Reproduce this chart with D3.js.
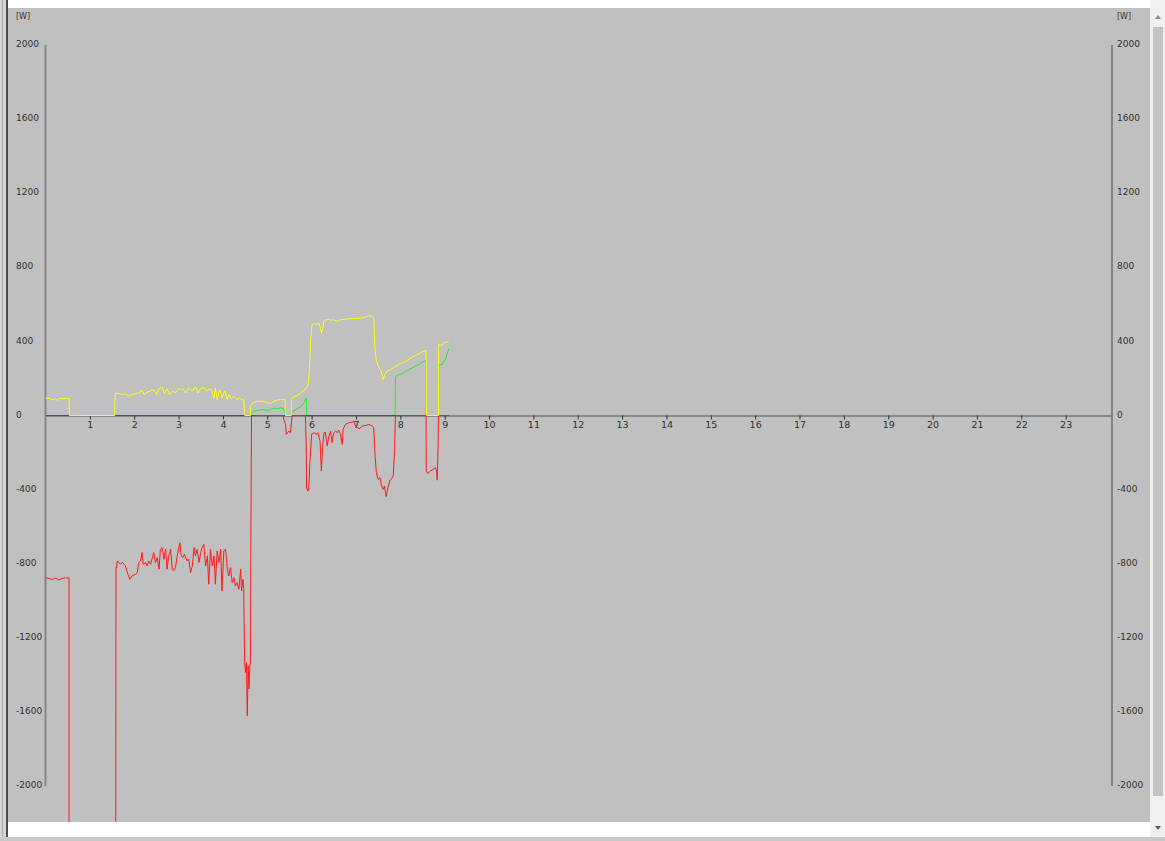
<!DOCTYPE html>
<html>
<head>
<meta charset="utf-8">
<script src="https://cdn.jsdelivr.net/npm/d3@7"></script>
<style>
  body { margin: 0; background: #fff; }
  svg { display: block; font-family: 'DejaVu Sans', sans-serif; }
</style>
</head>
<body>
<div id="vis"></div>
<script>
// power flows [hour, watt]
const hourTicks = d3.range(1, 24);
const wattTicks = d3.range(-2000, 2001, 400);

const bluePower = [[0, 0], [9.09, 0]];

const greenPower = [
  [0, 0], [4.62, 0], [4.62, 14], [4.70, 22], [4.77, 27], [4.89, 32], [5.00, 27], [5.07, 32],
  [5.15, 40], [5.22, 36], [5.30, 41], [5.37, 38], [5.41, 0], [5.54, 0], [5.54, 14], [5.60, 27],
  [5.68, 36], [5.75, 47], [5.83, 68], [5.88, 95], [5.89, 0], [7.88, 0], [7.89, 208],
  [7.97, 221], [8.04, 226], [8.12, 239], [8.19, 248], [8.27, 257], [8.34, 266], [8.42, 275],
  [8.49, 287], [8.57, 298], [8.58, 0], [8.86, 0], [8.87, 275], [8.94, 275], [8.98, 293],
  [9.02, 302], [9.06, 338], [9.09, 359]
];

const redPower = [
  [0, -876], [0.08, -880], [0.15, -885], [0.23, -878], [0.30, -888], [0.38, -880], [0.45, -876],
  [0.53, -878], [0.53, -3000], [1.58, -3000], [1.59, -830], [1.62, -785], [1.69, -803],
  [1.73, -791], [1.80, -812], [1.86, -857], [1.90, -884], [1.95, -866], [2.03, -857], [2.07, -848],
  [2.10, -794], [2.14, -785], [2.18, -740], [2.20, -803], [2.26, -794], [2.29, -812], [2.33, -785],
  [2.37, -803], [2.44, -740], [2.48, -794], [2.52, -767], [2.56, -830], [2.59, -722], [2.63, -713],
  [2.67, -776], [2.71, -722], [2.74, -830], [2.78, -758], [2.82, -722], [2.86, -830], [2.89, -839],
  [2.93, -821], [2.97, -758], [3.03, -686], [3.06, -758], [3.10, -767], [3.13, -749], [3.19, -785],
  [3.23, -776], [3.27, -848], [3.31, -812], [3.35, -713], [3.38, -758], [3.42, -722], [3.46, -794],
  [3.50, -740], [3.53, -713], [3.57, -695], [3.61, -812], [3.65, -758], [3.68, -911], [3.72, -722],
  [3.76, -812], [3.80, -758], [3.83, -911], [3.87, -731], [3.91, -794], [3.95, -722], [3.98, -947],
  [4.02, -731], [4.06, -722], [4.10, -830], [4.13, -866], [4.17, -821], [4.21, -902], [4.25, -875],
  [4.28, -920], [4.32, -902], [4.36, -938], [4.40, -830], [4.42, -947], [4.45, -884], [4.47, -938],
  [4.49, -1333], [4.51, -1387], [4.53, -1333], [4.55, -1621], [4.57, -1351], [4.59, -1477],
  [4.61, -1342], [4.62, -1342], [4.63, -677], [4.645, 0], [5.36, 0], [5.37, -21], [5.41, -48],
  [5.43, -102], [5.49, -84], [5.52, -93], [5.55, -30], [5.56, 0], [5.86, 0], [5.88, -174],
  [5.885, -390], [5.92, -408], [5.94, -381], [5.96, -255], [5.98, -183], [6.00, -102], [6.05, -93],
  [6.11, -102], [6.14, -93], [6.19, -138], [6.22, -300], [6.25, -165], [6.28, -93], [6.31, -90],
  [6.35, -165], [6.39, -111], [6.43, -84], [6.46, -147], [6.50, -93], [6.54, -84], [6.58, -93],
  [6.61, -79], [6.65, -102], [6.69, -156], [6.71, -75], [6.76, -48], [6.84, -39], [6.92, -36],
  [6.95, -30], [6.99, -57], [7.07, -72], [7.14, -57], [7.22, -54], [7.29, -48], [7.37, -57],
  [7.40, -66], [7.43, -219], [7.46, -309], [7.50, -345], [7.54, -336], [7.57, -372], [7.61, -399],
  [7.64, -381], [7.68, -438], [7.72, -390], [7.76, -354], [7.79, -345], [7.84, -327], [7.87, -183],
  [7.89, 0], [8.58, 0], [8.585, -300], [8.62, -313], [8.68, -300], [8.76, -288], [8.79, -282],
  [8.82, -300], [8.83, -349], [8.85, -183], [8.86, 0], [9.09, 0]
];

const yellowPower = [
  [0, 95], [0.08, 92], [0.15, 86], [0.23, 90], [0.26, 81], [0.32, 93], [0.41, 90], [0.49, 93],
  [0.53, 93], [0.54, 0], [1.56, 0], [1.57, 122], [1.65, 118], [1.73, 113], [1.80, 117],
  [1.88, 104], [1.95, 113], [2.03, 118], [2.10, 122], [2.18, 137], [2.22, 113], [2.29, 126],
  [2.37, 133], [2.44, 140], [2.50, 113], [2.56, 144], [2.63, 154], [2.68, 118], [2.74, 144],
  [2.80, 113], [2.86, 131], [2.93, 122], [3.01, 149], [3.04, 140], [3.10, 144], [3.16, 122],
  [3.23, 149], [3.31, 131], [3.38, 154], [3.44, 122], [3.50, 147], [3.57, 149], [3.63, 131],
  [3.68, 144], [3.74, 140], [3.80, 95], [3.83, 149], [3.87, 86], [3.93, 140], [3.98, 95],
  [4.04, 131], [4.10, 86], [4.13, 113], [4.19, 90], [4.25, 104], [4.32, 86], [4.38, 95],
  [4.43, 83], [4.47, 86], [4.49, 0], [4.62, 0], [4.625, 54], [4.70, 72], [4.77, 77], [4.89, 77],
  [5.00, 68], [5.07, 65], [5.15, 77], [5.22, 83], [5.30, 86], [5.40, 86], [5.41, 0], [5.54, 0],
  [5.545, 86], [5.60, 101], [5.68, 108], [5.75, 122], [5.83, 137], [5.89, 149], [5.92, 167],
  [5.945, 230], [5.96, 302], [5.98, 410], [6.01, 491], [6.07, 496], [6.11, 491], [6.16, 500],
  [6.19, 482], [6.22, 446], [6.25, 467], [6.28, 514], [6.34, 517], [6.39, 521], [6.44, 514],
  [6.50, 517], [6.58, 508], [6.65, 517], [6.80, 521], [6.95, 523], [7.10, 525], [7.22, 532],
  [7.29, 539], [7.37, 535], [7.40, 526], [7.43, 356], [7.46, 293], [7.52, 257], [7.57, 239],
  [7.61, 194], [7.65, 221], [7.70, 239], [7.78, 248], [7.85, 260], [7.93, 270], [8.00, 280],
  [8.08, 287], [8.16, 298], [8.23, 311], [8.31, 320], [8.38, 329], [8.46, 338], [8.53, 347],
  [8.58, 352], [8.59, 0], [8.86, 0], [8.865, 383], [8.94, 379], [9.00, 395], [9.04, 395],
  [9.09, 402]
];

const W = 1165, H = 841;
const plot = { left: 8, top: 8, right: 1150, bottom: 822 };

const svg = d3.select('#vis')
              .append('svg')
                .attr('width', W)
                .attr('height', H);

// window chrome
svg.append('rect').attr('width', W).attr('height', H).attr('fill', '#ffffff');
svg.append('rect').attr('x', 0).attr('y', 0).attr('width', 6).attr('height', H).attr('fill', '#d6d6d6');
svg.append('line').attr('x1', 2.5).attr('x2', 2.5).attr('y1', 0).attr('y2', H).attr('stroke', '#a8a8a8');
svg.append('rect')
    .attr('x', plot.left).attr('y', plot.top)
    .attr('width', plot.right - plot.left).attr('height', plot.bottom - plot.top)
    .attr('fill', '#c0c0c0');
svg.append('line').attr('x1', 7).attr('x2', 7).attr('y1', 0).attr('y2', 837).attr('stroke', '#111').attr('stroke-width', 1.5);
svg.append('rect').attr('x', 0).attr('y', 837).attr('width', W).attr('height', 4).attr('fill', '#c8c8c8');

// scrollbar
svg.append('rect').attr('x', plot.right).attr('y', 0).attr('width', W - plot.right).attr('height', 837).attr('fill', '#f0f0f0');
svg.append('rect').attr('x', 1153).attr('y', 27).attr('width', 10).attr('height', 769).attr('fill', '#c3c3c3');
svg.append('path').attr('d', 'M1155,19 L1161,19 L1158,15 Z').attr('fill', '#8a8a8a');
svg.append('path').attr('d', 'M1155,826 L1161,826 L1158,830 Z').attr('fill', '#606060');

const x = d3.scaleLinear()
            .domain([0, 24])
            .range([45.5, 1110]);
const y = d3.scaleLinear()
            .domain([-2000, 2000])
            .range([786, 45]);

// x axis
const xAxis = d3.axisBottom(x)
                .tickValues(hourTicks)
                .tickFormat(d3.format('d'))
                .tickSizeInner(4)
                .tickSizeOuter(0)
                .tickPadding(2);

const gx = svg.append('g')
    .attr('class', 'x axis')
    .attr('transform', 'translate(0,' + y(0) + ')')
    .call(xAxis);
gx.select('.domain').attr('stroke', '#505050').attr('d', 'M' + x(0) + ',0.5H1112');
gx.selectAll('.tick line').attr('stroke', '#303030');
gx.selectAll('.tick text').attr('fill', '#303030').attr('font-size', 9.5).attr('font-family', 'DejaVu Sans');

// y axes: lines plus left aligned labels
svg.append('line')
    .attr('x1', 45.5).attr('x2', 45.5)
    .attr('y1', y(2000)).attr('y2', y(-2000))
    .attr('stroke', '#858585').attr('stroke-width', 2);
svg.append('line')
    .attr('x1', 1112).attr('x2', 1112)
    .attr('y1', y(2000)).attr('y2', y(-2000))
    .attr('stroke', '#6e6e6e').attr('stroke-width', 1.5);

function yLabels(x0) {
  svg.append('g')
    .selectAll('text')
    .data(wattTicks)
    .join('text')
      .attr('x', x0)
      .attr('y', d => y(d) - 1)
      .attr('dy', '0.35em')
      .attr('font-size', 9)
      .attr('fill', '#303030')
      .text(d => d);
  svg.append('text')
      .attr('x', x0)
      .attr('y', 16)
      .attr('dy', '0.35em')
      .attr('font-size', 8)
      .attr('fill', '#303030')
      .text('[W]');
}
yLabels(16);
yLabels(1117);

// series
svg.append('clipPath').attr('id', 'clip')
  .append('rect')
    .attr('x', plot.left).attr('y', plot.top)
    .attr('width', plot.right - plot.left).attr('height', plot.bottom - plot.top);

const line = d3.line()
               .x(d => x(d[0]))
               .y(d => y(d[1]));

const series = [
  { data: greenPower, color: '#22f022' },
  { data: bluePower, color: '#3a3aff' },
  { data: redPower, color: '#ff1a1a' },
  { data: yellowPower, color: '#ffff10' }
];

svg.append('g')
    .attr('clip-path', 'url(#clip)')
  .selectAll('path')
  .data(series)
  .join('path')
    .attr('d', d => line(d.data))
    .attr('fill', 'none')
    .attr('stroke', d => d.color)
    .attr('stroke-width', 1);
</script>
</body>
</html>
